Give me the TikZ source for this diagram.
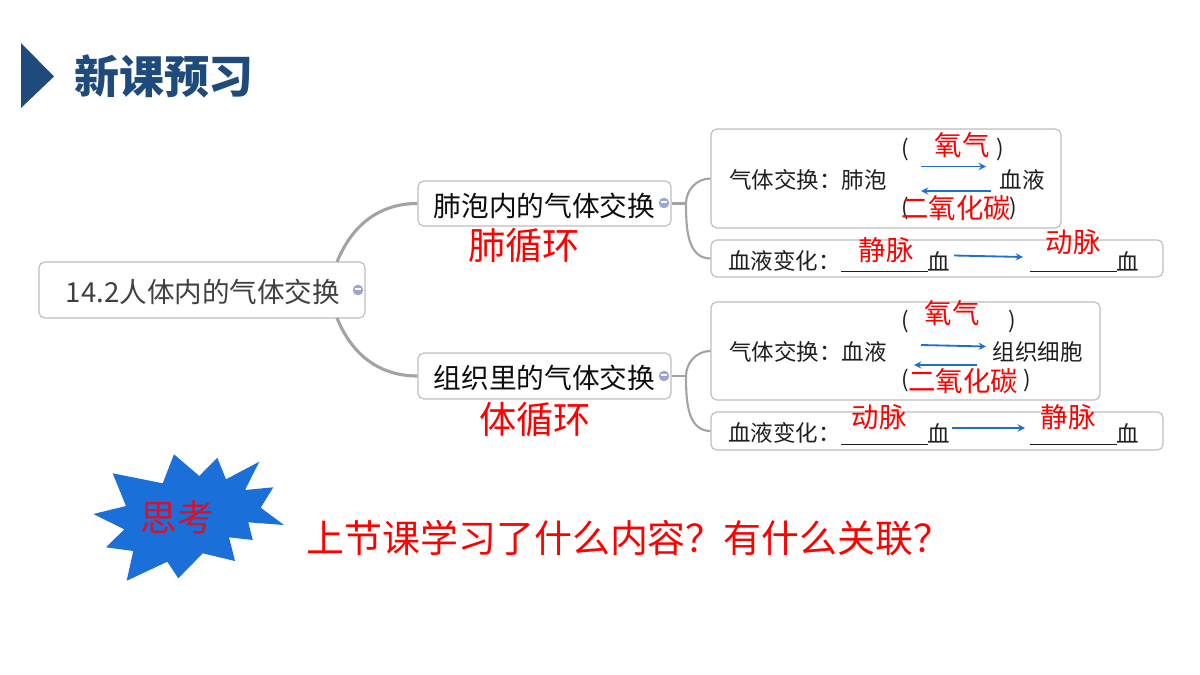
\documentclass[tikz,border=0pt]{standalone}
\usepackage{fontspec}
\setmainfont{Noto Sans CJK SC}
\definecolor{titleblue}{HTML}{1F4A7C}
\definecolor{starblue}{HTML}{1A6FD8}
\definecolor{arrowblue}{HTML}{1F6FCF}
\definecolor{foldblue}{HTML}{9AA6D2}
\definecolor{boxgray}{HTML}{BDBDBD}
\definecolor{linegray}{HTML}{A3A3A3}
\definecolor{starred}{HTML}{D5132E}
\newcommand{\fs}[1]{\fontsize{#1}{#1}\selectfont}
\begin{document}
\begin{tikzpicture}[x=0.025cm, y=-0.025cm,
    topic/.style={draw=boxgray, fill=white, line width=0.8pt, rounded corners=4pt,
      inner sep=0pt},
    fold/.style={circle, fill=foldblue, inner sep=0pt, minimum size=7.5pt},
    branch/.style={draw=linegray, line width=2.2pt},
    subbranch/.style={draw=linegray, line width=1.5pt},
    flow/.style={->, >=stealth, draw=arrowblue, line width=1.3pt},
    note/.style={text=black!88, font=\fs{16}, inner sep=0pt},
    answer/.style={text=red, font=\fs{19.5}, inner sep=0pt},
    big/.style={text=red, font=\fs{26.5}, inner sep=0pt}]
    \useasboundingbox (0,0) rectangle (1200,675);
    \fill[white] (0,0) rectangle (1200,675);

    % title
    \fill[titleblue] (21,43) -- (54,76.5) -- (21,108) -- cycle;
    \node[text=titleblue, font=\fs{32}\bfseries, inner sep=0pt] (title) at (164,76) {新课预习};

    % boxes
    \node[topic, minimum width=326*0.711pt, minimum height=56*0.711pt] (root) at (202,290) {};
    \node[topic, minimum width=253*0.711pt, minimum height=45*0.711pt] (lung) at (544.5,203.5) {};
    \node[topic, minimum width=253*0.711pt, minimum height=46*0.711pt] (tissue) at (544.5,376) {};
    \node[topic, minimum width=350*0.711pt, minimum height=99*0.711pt] (lunggas) at (886,178.5) {};
    \node[topic, minimum width=452*0.711pt, minimum height=37*0.711pt] (lungblood) at (937,258.5) {};
    \node[topic, minimum width=389*0.711pt, minimum height=98*0.711pt] (tissuegas) at (905.5,351) {};
    \node[topic, minimum width=452*0.711pt, minimum height=38*0.711pt] (tissueblood) at (937,431) {};

    % branches
    \coordinate (roottop) at (337,262);
    \coordinate (rootbot) at (337,318);
    \coordinate (lungfork) at (686,203.5);
    \coordinate (tissuefork) at (686,376);
    \draw[branch] (roottop) to[out=68, in=180] (lung.west);
    \draw[branch] (rootbot) to[out=-68, in=180] (tissue.west);
    \begin{scope}[subbranch]
      \draw (lung.east) -- (lungfork);
      \draw (lungfork) to[out=90, in=180] (lunggas.west);
      \draw (lungfork) to[out=-90, in=180] (lungblood.west);
      \draw (tissue.east) -- (tissuefork);
      \draw (tissuefork) to[out=90, in=180] (tissuegas.west);
      \draw (tissuefork) to[out=-90, in=180] (tissueblood.west);
    \end{scope}

    % fold marks
    \begin{scope}[every node/.style={fold}]
      \node (rootfold) at (358,290) {\textcolor{white}{\rule[1.6pt]{4.5pt}{1pt}}};
      \node (lungfold) at (664,203) {\textcolor{white}{\rule[1.6pt]{4.5pt}{1pt}}};
      \node (tissuefold) at (664,376) {\textcolor{white}{\rule[1.6pt]{4.5pt}{1pt}}};
    \end{scope}

    % topic texts
    \node[text=black!75, font=\fs{19.6}, inner sep=0pt] (roottext) at (203,291.5) {14.2人体内的气体交换};
    \node[text=black!95, font=\fs{19.7}, inner sep=0pt] (lungtext) at (544.5,205.5) {肺泡内的气体交换};
    \node[text=black!95, font=\fs{19.7}, inner sep=0pt] (tissuetext) at (544.5,378) {组织里的气体交换};
    \node[big] (lungloop) at (524,245) {肺循环};
    \node[big] (bodyloop) at (535,419) {体循环};

    % first box
    \begin{scope}[every node/.style={note}]
      \node[anchor=west] (gas1) at (729,180) {气体交换：肺泡};
      \node (gas1b) at (1022,180) {血液};
      \node (par1) at (905,150) {(};
      \node (par2) at (1000,150) {)};
      \node (par3) at (905,209) {(};
      \node (par4) at (1013,209) {)};
      \node[anchor=west] (blood1) at (728,261) {血液变化：};
      \node (blood1a) at (939,261) {血};
      \node (blood1b) at (1128,261) {血};
      \node (blank1) at (884.5,271.5) {\rule{61.5pt}{0.7pt}};
      \node (blank2) at (1073.5,271.5) {\rule{61.5pt}{0.7pt}};
    \end{scope}
    % second box
    \begin{scope}[every node/.style={note}]
      \node[anchor=west] (gas2) at (729,351.5) {气体交换：血液};
      \node (gas2b) at (1037.5,351.5) {组织细胞};
      \node (par5) at (905,322) {(};
      \node (par6) at (1012,322) {)};
      \node (par7) at (905,381) {(};
      \node (par8) at (1027,381) {)};
      \node[anchor=west] (blood2) at (728,433) {血液变化：};
      \node (blood2a) at (939,433) {血};
      \node (blood2b) at (1128,433) {血};
      \node (blank3) at (884.5,444) {\rule{61.5pt}{0.7pt}};
      \node (blank4) at (1073.5,444) {\rule{61.5pt}{0.7pt}};
    \end{scope}

    % arrows
    \coordinate (a1) at (921,166.5); \coordinate (a2) at (986,166.5);
    \coordinate (a3) at (991,191); \coordinate (a4) at (921,191);
    \coordinate (a5) at (954,255.5); \coordinate (a6) at (1023,257);
    \coordinate (a7) at (921,345); \coordinate (a8) at (986,346.5);
    \coordinate (a9) at (977,365); \coordinate (a10) at (914,365);
    \coordinate (a11) at (952,428); \coordinate (a12) at (1025,428);
    \begin{scope}[flow]
      \draw (a1) -- (a2); \draw (a3) -- (a4); \draw (a5) -- (a6);
      \draw (a7) -- (a8); \draw (a9) -- (a10); \draw (a11) -- (a12);
    \end{scope}

    % answers
    \begin{scope}[every node/.style={answer}]
      \node (o1) at (962,145) {氧气};
      \node (c1) at (956,208) {二氧化碳};
      \node (vein1) at (886,250) {静脉};
      \node (art1) at (1073,242) {动脉};
      \node (o2) at (952,313) {氧气};
      \node (c2) at (963,381) {二氧化碳};
      \node (art2) at (879,417) {动脉};
      \node (vein2) at (1068,417) {静脉};
    \end{scope}

    % star
    \fill[starblue] (93.3,514) -- (126,506) -- (112.7,473.3) -- (162.7,483.3) -- (174,454.3)
      -- (199.3,476) -- (217.3,457.7) -- (226,479.3) -- (259.3,461.7) -- (245,490)
      -- (273.3,487.3) -- (260.7,507.7) -- (284,525) -- (248.3,522.3) -- (252.7,540)
      -- (229,537.3) -- (235,561) -- (202.7,553.3) -- (178.3,578.3) -- (167.3,561.7)
      -- (126.7,580.7) -- (133.3,551) -- (106,547.3) -- (124.3,529.3) -- cycle;
    \node[text=starred, font=\fs{26}, inner sep=0pt] (think) at (177,517) {思考};
    \node[big, font=\fs{27}, anchor=west] (question) at (306,538) {上节课学习了什么内容？有什么关联？};
  \end{tikzpicture}
\end{document}
